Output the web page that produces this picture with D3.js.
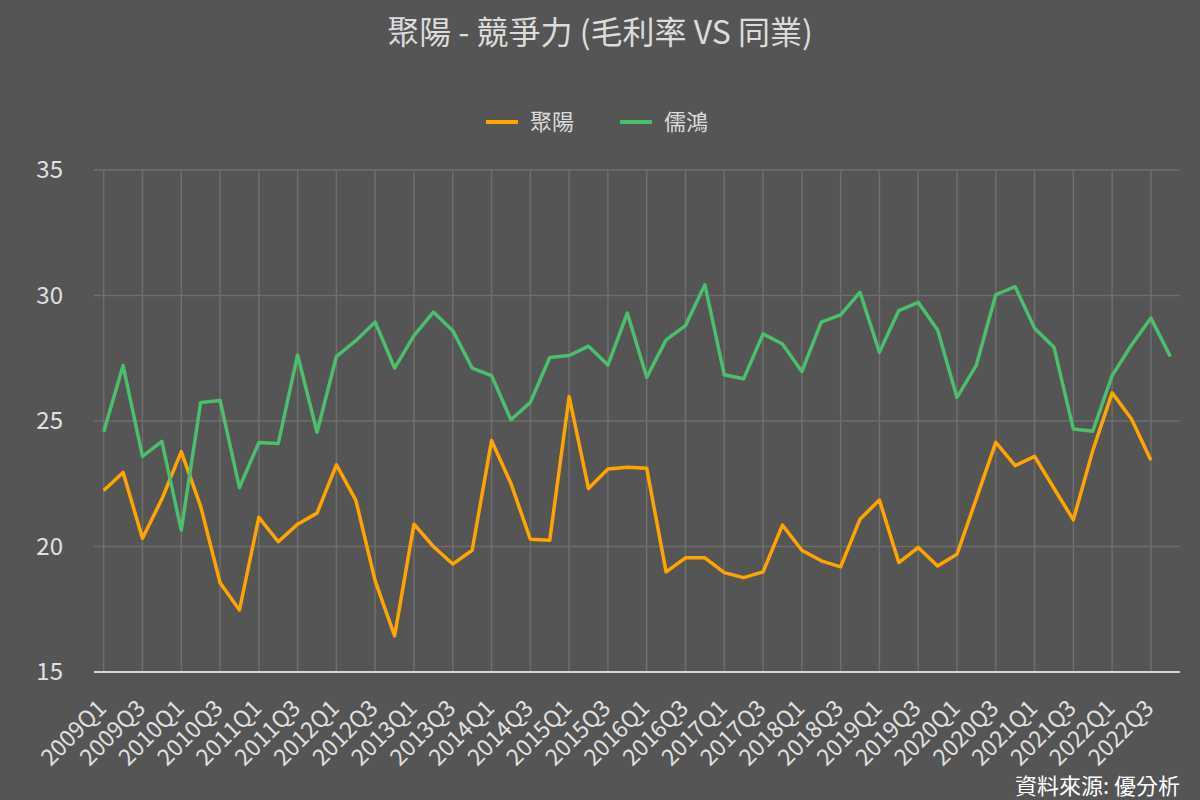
<!DOCTYPE html>
<html>
<head>
<meta charset="utf-8">
<script src="https://cdn.jsdelivr.net/npm/d3@7"></script>
<style>
  body { margin: 0; background: #555555; }
  svg { display: block; font-family: "Noto Sans CJK TC", "Noto Sans", sans-serif; }
</style>
</head>
<body>
<div id="chart"></div>
<script>
const years = d3.range(2009, 2023);
const quarters = years.flatMap(y => [1, 2, 3, 4].map(q => y + "Q" + q));

const jyValues = [22.23, 22.95, 20.33, 21.89, 23.78, 21.60, 18.56, 17.47, 21.16, 20.19,
  20.89, 21.33, 23.25, 21.85, 18.63, 16.44, 20.89, 20.00, 19.30, 19.85,
  24.22, 22.51, 20.29, 20.25, 25.97, 22.31, 23.09, 23.16, 23.12, 18.99,
  19.55, 19.55, 18.96, 18.76, 18.99, 20.85, 19.85, 19.43, 19.19, 21.09,
  21.85, 19.36, 19.96, 19.22, 19.69, 21.91, 24.15, 23.22, 23.59, 22.32,
  21.06, 23.82, 26.12, 25.08, 23.44];

const rhValues = [24.57, 27.21, 23.59, 24.19, 20.65, 25.74, 25.82, 22.35, 24.14, 24.10,
  27.63, 24.55, 27.57, 28.20, 28.94, 27.11, 28.40, 29.34, 28.60, 27.11,
  26.81, 25.05, 25.74, 27.53, 27.61, 27.98, 27.23, 29.30, 26.74, 28.23,
  28.80, 30.43, 26.84, 26.68, 28.47, 28.07, 26.97, 28.94, 29.23, 30.13,
  27.74, 29.40, 29.73, 28.63, 25.94, 27.23, 30.03, 30.35, 28.70, 27.94,
  24.68, 24.59, 26.81, 28.03, 29.10, 27.57];

const yTicks = [15, 20, 25, 30, 35];
const seriesNames = ["聚陽", "儒鴻"];
const colors = ["#ffa500", "#4bbf6b"];

const width = 1200, height = 800;
const margin = {top: 170, right: 20, bottom: 128, left: 94};

const svg = d3.select("#chart").append("svg")
  .attr("width", width)
  .attr("height", height);

svg.append("rect").attr("width", width).attr("height", height).attr("fill", "#555555");

const x = d3.scalePoint()
  .domain(quarters)
  .range([margin.left, width - margin.right])
  .padding(0.5);

const y = d3.scaleLinear()
  .domain([15, 35])
  .range([height - margin.bottom, margin.top]);

// title
svg.append("text")
  .attr("x", width / 2).attr("y", 44)
  .attr("text-anchor", "middle")
  .attr("fill", "#dcdcdc")
  .style("font-size", "32px")
  .text("聚陽 - 競爭力 (毛利率 VS 同業)");

// horizontal grid
svg.append("g")
  .selectAll("line")
  .data(yTicks.filter(d => d > 15))
  .join("line")
  .attr("x1", margin.left).attr("x2", width - margin.right)
  .attr("y1", d => y(d)).attr("y2", d => y(d))
  .attr("stroke", "#6e6e6e").attr("stroke-width", 1.5);

// vertical grid at labelled quarters
const labelled = quarters.filter((q, i) => i % 2 === 0);
svg.append("g")
  .selectAll("line")
  .data(labelled)
  .join("line")
  .attr("x1", d => x(d)).attr("x2", d => x(d))
  .attr("y1", y(35)).attr("y2", y(15))
  .attr("stroke", "#6e6e6e").attr("stroke-width", 1.5);

// y axis
svg.append("g")
  .attr("transform", `translate(${margin.left},0)`)
  .call(d3.axisLeft(y).tickValues(yTicks).tickSize(0).tickPadding(31))
  .call(g => g.select(".domain").remove())
  .selectAll("text")
  .attr("fill", "#e0e0e0")
  .style("font-size", "24px")
  .style("font-family", "'Noto Sans CJK TC', sans-serif");

// x axis
svg.append("g")
  .attr("transform", `translate(0,${y(15)})`)
  .call(d3.axisBottom(x).tickValues(labelled).tickSize(0))
  .call(g => g.select(".domain").remove())
  .selectAll("text")
  .attr("fill", "#e0e0e0")
  .style("font-size", "23px")
  .style("font-family", "'Noto Sans CJK TC', sans-serif")
  .style("text-anchor", "end")
  .attr("y", 0)
  .attr("dy", "0.35em")
  .attr("transform", "translate(-2,32) rotate(-45)");

svg.append("line")
  .attr("x1", margin.left).attr("x2", width - margin.right)
  .attr("y1", y(15)).attr("y2", y(15))
  .attr("stroke", "#ccd6eb").attr("stroke-width", 2);

// lines
const line = d3.line()
  .x((d, i) => x(quarters[i]))
  .y(d => y(d));

[jyValues, rhValues].forEach((vals, k) => {
  svg.append("path")
    .datum(vals)
    .attr("fill", "none")
    .attr("stroke", colors[k])
    .attr("stroke-width", 3.5)
    .attr("stroke-linejoin", "round")
    .attr("d", line);
});

// legend
const legend = svg.append("g");
const legendX = [486, 620];
seriesNames.forEach((name, k) => {
  legend.append("line")
    .attr("x1", legendX[k]).attr("x2", legendX[k] + 32)
    .attr("y1", 122).attr("y2", 122)
    .attr("stroke", colors[k]).attr("stroke-width", 4);
  legend.append("text")
    .attr("x", legendX[k] + 44).attr("y", 130)
    .attr("fill", "#dcdcdc")
    .style("font-size", "22px")
    .text(name);
});

// source
svg.append("text")
  .attr("x", 1180).attr("y", 794)
  .attr("text-anchor", "end")
  .attr("fill", "#ffffff")
  .style("font-size", "22px")
  .text("資料來源: 優分析");
</script>
</body>
</html>
